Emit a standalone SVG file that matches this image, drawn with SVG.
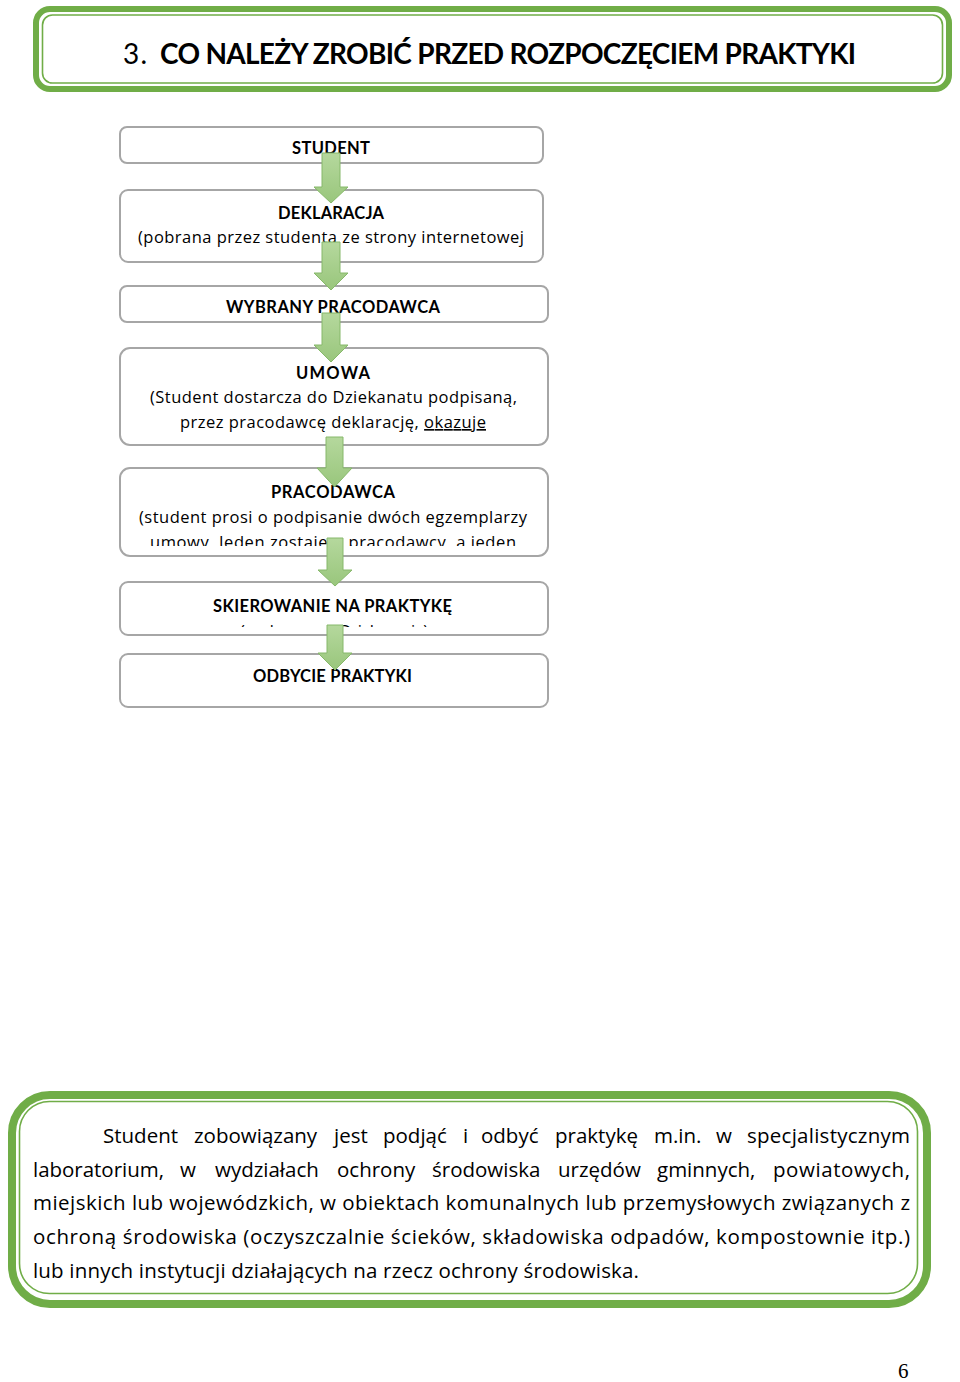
<svg xmlns="http://www.w3.org/2000/svg" width="960" height="1382" viewBox="0 0 960 1382">
<style>
text{font-family:Lato,"Open Sans","Liberation Sans",sans-serif;fill:#000}
.box{fill:#fff;stroke:#a6a6a6;stroke-width:2}
.t{font-size:16.5px;font-weight:bold}
.s{font-size:16.5px;font-family:"Open Sans","Liberation Sans",sans-serif}
.frameO{fill:#fff;stroke:#70ad47}
.frameI{fill:none;stroke:#70ad47;stroke-width:1.6}
.arrow{fill:url(#ag);stroke:#86b86a;stroke-width:1}
.body{font-size:20.5px;font-family:"Open Sans","Liberation Sans",sans-serif}
</style>
<defs>
<linearGradient id="ag" x1="0" y1="0" x2="0" y2="1">
<stop offset="0" stop-color="#b5d89d"/>
<stop offset="1" stop-color="#99c67c"/>
</linearGradient>
<clipPath id="c5"><rect x="120" y="468" width="428" height="78"/></clipPath>
<clipPath id="c6"><rect x="120" y="582" width="428" height="45"/></clipPath>
</defs>
<rect width="960" height="1382" fill="#fff"/>

<g id="header">
<rect class="frameO" x="36" y="9" width="913" height="80" rx="14" stroke-width="6"/>
<rect class="frameI" x="42.5" y="15" width="900" height="68" rx="10"/>
<text x="123" y="64" font-size="28" textLength="24">3.</text>
<text x="160" y="64" font-size="28" font-weight="bold" textLength="696" lengthAdjust="spacing">CO NALEŻY ZROBIĆ PRZED ROZPOCZĘCIEM PRAKTYKI</text>
</g>

<g id="n1">
<rect class="box" x="120" y="127" width="423" height="36" rx="7"/>
<text class="t" x="292" y="154" textLength="78">STUDENT</text>
</g>
<g id="n2">
<rect class="box" x="120" y="190" width="423" height="72" rx="8"/>
<text class="t" x="278" y="219" textLength="106">DEKLARACJA</text>
<text class="s" x="138" y="243" textLength="386">(pobrana przez studenta ze strony internetowej</text>
</g>
<g id="n3">
<rect class="box" x="120" y="286" width="428" height="36" rx="7"/>
<text class="t" x="226" y="313" textLength="214">WYBRANY PRACODAWCA</text>
</g>
<g id="n4">
<rect class="box" x="120" y="348" width="428" height="97" rx="10"/>
<text class="t" x="296" y="379" textLength="74">UMOWA</text>
<text class="s" x="150" y="403" textLength="367">(Student dostarcza do Dziekanatu podpisaną,</text>
<text class="s" x="180" y="428" textLength="306">przez pracodawcę deklarację, <tspan text-decoration="underline">okazuje</tspan></text>
</g>
<g id="n5">
<rect class="box" x="120" y="468" width="428" height="88" rx="10"/>
<text class="t" x="271" y="498" textLength="124">PRACODAWCA</text>
<text class="s" x="139" y="523" textLength="388">(student prosi o podpisanie dwóch egzemplarzy</text>
<text class="s" x="150" y="548" textLength="366" clip-path="url(#c5)">umowy. Jeden zostaje u pracodawcy, a jeden</text>
</g>
<g id="n6">
<rect class="box" x="120" y="582" width="428" height="53" rx="8"/>
<text class="t" x="213" y="612" textLength="239">SKIEROWANIE NA PRAKTYKĘ</text>
<text class="s" x="240" y="637" textLength="188" clip-path="url(#c6)">(wydawane w Dziekanacie)</text>
</g>
<g id="n7">
<rect class="box" x="120" y="654" width="428" height="53" rx="8"/>
<text class="t" x="253" y="682" textLength="159">ODBYCIE PRAKTYKI</text>
</g>

<g id="connectors">
<polygon class="arrow" points="322,153 340,153 340,187 348,187 331,203 314,187 322,187"/>
<polygon class="arrow" points="322,242 340,242 340,273 348,273 331,290 314,273 322,273"/>
<polygon class="arrow" points="322,313 340,313 340,345 348,345 331,362 314,345 322,345"/>
<polygon class="arrow" points="326,437 343,437 343,468 352,468 334.5,487 317,468 326,468"/>
<polygon class="arrow" points="327,538 343,538 343,570 352,570 335,586 318,570 327,570"/>
<polygon class="arrow" points="327,625 343,625 343,653 352,653 335,670 318,653 327,653"/>
</g>

<g id="note">
<rect class="frameO" x="12" y="1095" width="915" height="209" rx="38" stroke-width="8"/>
<rect class="frameI" x="19.5" y="1101.5" width="898" height="192" rx="30"/>
<text class="body" y="1143">
<tspan x="103">Student</tspan><tspan x="194">zobowiązany</tspan><tspan x="334">jest</tspan><tspan x="383">podjąć</tspan><tspan x="463">i</tspan><tspan x="481">odbyć</tspan><tspan x="555">praktykę</tspan><tspan x="654">m.in.</tspan><tspan x="716">w</tspan><tspan x="747" textLength="163">specjalistycznym</tspan>
</text>
<text class="body" y="1177">
<tspan x="33" textLength="131">laboratorium,</tspan><tspan x="180">w</tspan><tspan x="215">wydziałach</tspan><tspan x="337">ochrony</tspan><tspan x="432">środowiska</tspan><tspan x="558">urzędów</tspan><tspan x="657">gminnych,</tspan><tspan x="773" textLength="137">powiatowych,</tspan>
</text>
<text class="body" x="33" y="1210" textLength="877" lengthAdjust="spacing">miejskich lub wojewódzkich, w obiektach komunalnych lub przemysłowych związanych z</text>
<text class="body" x="33" y="1244" textLength="877" lengthAdjust="spacing">ochroną środowiska (oczyszczalnie ścieków, składowiska odpadów, kompostownie itp.)</text>
<text class="body" x="33" y="1278" textLength="606" lengthAdjust="spacing">lub innych instytucji działających na rzecz ochrony środowiska.</text>
</g>

<text x="898" y="1378" font-size="21" style="font-family:'Liberation Serif',serif">6</text>
</svg>
